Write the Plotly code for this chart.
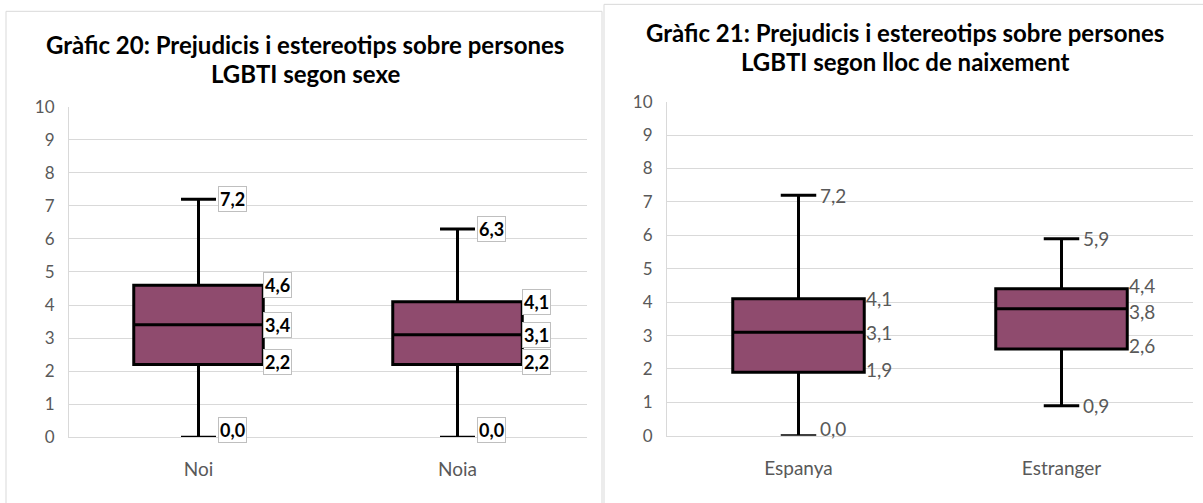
import plotly.graph_objects as go

# ---------------- data ----------------
cats_left = ["Noi", "Noia"]
min_left = [0.0, 0.0]
q1_left = [2.2, 2.2]
median_left = [3.4, 3.1]
q3_left = [4.6, 4.1]
max_left = [7.2, 6.3]

cats_right = ["Espanya", "Estranger"]
min_right = [0.0, 0.9]
q1_right = [1.9, 2.6]
median_right = [3.1, 3.8]
q3_right = [4.1, 4.4]
max_right = [7.2, 5.9]

title_left = ["Gràfic 20: Prejudicis i estereotips sobre persones", "LGBTI segon sexe"]
title_right = ["Gràfic 21: Prejudicis i estereotips sobre persones", "LGBTI segon lloc de naixement"]
y_ticks = list(range(0, 11))

# ---------------- layout geometry ----------------
W, H = 1203, 503
FONT = "Lato"
BOX_FILL = "#8F4B6E"
GRID = "#D9D9D9"
TICK_COL = "#595959"
BOXGAP = 0.5
WHISK = 0.27
# vertical placement correction measured on the rendered page
V_OFF, V_SC = 8.7, 0.965


def px(x):
    return x / W


def py(y):
    return 1 - ((y - V_OFF) / V_SC) / H


left_dom_x = [69, 587]
left_dom_y = [438, 105]
right_dom_x = [667, 1193]
right_dom_y = [436.5, 100]


def fmt(v):
    return f"{v:.1f}".replace(".", ",")


fig = go.Figure()

fig.add_trace(go.Box(
    x=cats_left, q1=q1_left, median=median_left, q3=q3_left,
    lowerfence=min_left, upperfence=max_left,
    fillcolor=BOX_FILL, line=dict(color="black", width=3),
    whiskerwidth=WHISK, boxpoints=False, xaxis="x", yaxis="y",
    showlegend=False, hoverinfo="skip",
))
fig.add_trace(go.Box(
    x=cats_right, q1=q1_right, median=median_right, q3=q3_right,
    lowerfence=min_right, upperfence=max_right,
    fillcolor=BOX_FILL, line=dict(color="black", width=3),
    whiskerwidth=WHISK, boxpoints=False, xaxis="x2", yaxis="y2",
    showlegend=False, hoverinfo="skip",
))

annotations = []


def add_labels(cats, mins, q1s, meds, q3s, maxs, xref, yref, dom_x, boxed):
    step = (dom_x[1] - dom_x[0]) / len(cats)
    half_box = step * (1 - BOXGAP) / 2
    half_cap = half_box * WHISK
    for i, c in enumerate(cats):
        gap_hi = q3s[i] - meds[i]
        gap_lo = meds[i] - q1s[i]
        items = [
            (maxs[i], half_cap + 2, 0),
            (q3s[i], half_box, 3 if gap_hi < 0.8 else 0),
            (meds[i], half_box, -3 if gap_hi < 0.8 else 0),
            (q1s[i], half_box, 3 if gap_lo < 1.3 else 0),
            (mins[i], half_cap + 2, 7 if mins[i] == 0 else 0),
        ]
        for v, xs, ys in items:
            a = dict(
                x=i, y=v, xref=xref, yref=yref, text=fmt(v), showarrow=False,
                xanchor="left", yanchor="middle", xshift=xs, yshift=ys,
            )
            if boxed:
                a.update(font=dict(family=FONT, size=18, color="black", weight="bold"),
                         bgcolor="white", bordercolor="#BFBFBF", borderwidth=1, borderpad=1)
            else:
                a.update(font=dict(family=FONT, size=19, color=TICK_COL))
            annotations.append(a)


add_labels(cats_left, min_left, q1_left, median_left, q3_left, max_left, "x", "y", left_dom_x, True)
add_labels(cats_right, min_right, q1_right, median_right, q3_right, max_right, "x2", "y2", right_dom_x, False)

# titles
for lines, cx, ys in [(title_left, 305, [42, 72]), (title_right, 905, [30, 60])]:
    for t, yy in zip(lines, ys):
        annotations.append(dict(
            x=px(cx), y=py(yy), xref="paper", yref="paper", text=t, showarrow=False,
            xanchor="center", yanchor="middle",
            font=dict(family=FONT, size=24, color="black", weight="bold"),
        ))

shapes = [
    dict(type="rect", xref="paper", yref="paper", x0=px(6), x1=px(602), y0=py(540), y1=py(9),
         line=dict(color=GRID, width=1), fillcolor="rgba(0,0,0,0)", layer="below"),
    dict(type="rect", xref="paper", yref="paper", x0=px(604), x1=px(1220), y0=py(540), y1=py(2),
         line=dict(color=GRID, width=1), fillcolor="rgba(0,0,0,0)", layer="below"),
]

xaxis_common = dict(
    type="category", range=[-0.5, 1.5], showgrid=False, showline=True, linecolor=GRID,
    linewidth=1, ticks="", tickfont=dict(family=FONT, size=19, color=TICK_COL),
    ticklabelstandoff=15, fixedrange=True,
)
yaxis_common = dict(
    range=[0, 10], tickvals=y_ticks, showgrid=True, gridcolor=GRID, gridwidth=1,
    zeroline=False, showline=True, linecolor=GRID, ticks="",
    tickfont=dict(family=FONT, size=17, color=TICK_COL), ticklabelstandoff=10,
    fixedrange=True,
)

fig.update_layout(
    width=W, height=H, autosize=False,
    margin=dict(l=0, r=0, t=0, b=0),
    paper_bgcolor="white", plot_bgcolor="white",
    boxgap=BOXGAP, boxgroupgap=0,
    xaxis=dict(domain=[px(left_dom_x[0]), px(left_dom_x[1])], anchor="y", **xaxis_common),
    yaxis=dict(domain=[py(left_dom_y[0]), py(left_dom_y[1])], anchor="x", **yaxis_common),
    xaxis2=dict(domain=[px(right_dom_x[0]), px(right_dom_x[1])], anchor="y2", **xaxis_common),
    yaxis2=dict(domain=[py(right_dom_y[0]), py(right_dom_y[1])], anchor="x2", **yaxis_common),
    annotations=annotations,
    shapes=shapes,
    showlegend=False,
)

fig.write_html(
    "out.html",
    config={"responsive": False, "displayModeBar": False},
    post_script=(
        "var gd=document.getElementById('{plot_id}');"
        "gd.style.position='fixed';gd.style.top='0px';gd.style.left='0px';"
        "document.body.style.margin='0';document.body.style.overflow='hidden';"
        "document.documentElement.style.overflow='hidden';"
    ),
)
